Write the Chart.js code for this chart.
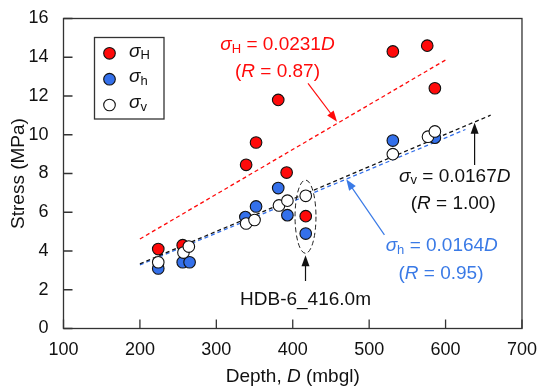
<!DOCTYPE html>
<html><head><meta charset="utf-8">
<script src="https://cdn.jsdelivr.net/npm/chart.js@4/dist/chart.umd.min.js"></script>
<style>html,body{margin:0;padding:0;background:#fff}canvas{display:block}</style>
</head><body>
<canvas id="c" width="540" height="388"></canvas>
<script>
// ---- data ----
const depthSigmaH  = [224, 256, 339, 352, 381, 392, 417, 531, 576, 586];
const sigmaH       = [4.1, 4.3, 8.45, 9.6, 11.8, 8.05, 5.8, 14.3, 14.6, 12.4];
const depthSigmah  = [224, 256, 265, 338, 352, 381, 393, 417, 531, 586];
const sigmah       = [3.1, 3.42, 3.42, 5.75, 6.3, 7.25, 5.85, 4.9, 9.7, 9.85];
const depthSigmaV  = [224, 257, 264, 339, 350, 382, 393, 417, 531, 577, 586];
const sigmaV       = [3.42, 3.92, 4.23, 5.42, 5.6, 6.35, 6.6, 6.85, 9.0, 9.9, 10.17];
// fitted trend lines (end points)
const fitDepthH = [200, 600];   const fitStressH = [4.62, 13.86];
const fitDepthh = [200, 626];   const fitStressh = [3.28, 10.27];
const fitDepthV = [200, 659];   const fitStressV = [3.34, 11.01];
// tick labels
const xTicks = [100, 200, 300, 400, 500, 600, 700];
const yTicks = [0, 2, 4, 6, 8, 10, 12, 14, 16];

const RED = '#ff0a0a', BLUE = '#3470ea', BLUE_TXT = '#3a7ae6';
const FONT = '"Liberation Sans", Arial, Helvetica, sans-serif';
const pts = (xs, ys) => xs.map((x, i) => ({x, y: ys[i]}));

function drawRuns(ctx, runs, cx, cy, align) {
  ctx.save();
  ctx.textBaseline = 'middle';
  ctx.textAlign = 'left';
  let w = 0;
  runs.forEach(r => { ctx.font = r.f; r.w = ctx.measureText(r.t).width; w += r.w; });
  let x = align === 'left' ? cx : cx - w / 2;
  runs.forEach(r => { ctx.font = r.f; ctx.fillStyle = r.c; ctx.fillText(r.t, x, cy + (r.dy || 0)); x += r.w; });
  ctx.restore();
}
function arrow(ctx, x1, y1, x2, y2, color) {
  const a = Math.atan2(y2 - y1, x2 - x1), L = 11, W = 4;
  ctx.save();
  ctx.strokeStyle = color; ctx.fillStyle = color; ctx.lineWidth = 1.2; ctx.setLineDash([]);
  ctx.beginPath(); ctx.moveTo(x1, y1); ctx.lineTo(x2 - Math.cos(a) * L * 0.8, y2 - Math.sin(a) * L * 0.8); ctx.stroke();
  ctx.beginPath();
  ctx.moveTo(x2, y2);
  ctx.lineTo(x2 - L * Math.cos(a) + W * Math.sin(a), y2 - L * Math.sin(a) - W * Math.cos(a));
  ctx.lineTo(x2 - L * Math.cos(a) - W * Math.sin(a), y2 - L * Math.sin(a) + W * Math.cos(a));
  ctx.closePath(); ctx.fill();
  ctx.restore();
}

const F = (s, it) => (it ? 'italic ' : '') + s + 'px ' + FONT;
const eq = (sub, rest, color) => [
  {t: 'σ', f: F(19, true), c: color},
  {t: sub, f: F(13), c: color, dy: 4},
  {t: ' = ' + rest, f: F(19), c: color},
  {t: 'D', f: F(19, true), c: color}];
const rr = (v, color) => [
  {t: '(', f: F(19), c: color},
  {t: 'R', f: F(19, true), c: color},
  {t: ' = ' + v + ')', f: F(19), c: color}];

const decor = {
  id: 'decor',
  afterDraw(chart) {
    const {ctx, chartArea: a, scales: {x, y}} = chart;
    const X = v => x.getPixelForValue(v), Y = v => y.getPixelForValue(v);
    ctx.save();
    // frame
    ctx.strokeStyle = '#333'; ctx.lineWidth = 1.3;
    ctx.strokeRect(a.left, a.top, a.right - a.left, a.bottom - a.top);
    // inward ticks
    ctx.beginPath();
    xTicks.forEach(v => { ctx.moveTo(X(v), a.bottom); ctx.lineTo(X(v), a.bottom - 9); });
    yTicks.forEach(v => { ctx.moveTo(a.left, Y(v)); ctx.lineTo(a.left + 9, Y(v)); });
    ctx.stroke();
    ctx.restore();

    // axis titles
    drawRuns(ctx, [{t: 'Depth, ', f: F(19), c: '#111'}, {t: 'D', f: F(19, true), c: '#111'}, {t: ' (mbgl)', f: F(19), c: '#111'}],
      (a.left + a.right) / 2, 377);
    ctx.save();
    ctx.translate(18.5, (a.top + a.bottom) / 2); ctx.rotate(-Math.PI / 2);
    drawRuns(ctx, [{t: 'Stress (MPa)', f: F(19), c: '#111'}], 0, 0);
    ctx.restore();

    // legend
    ctx.save();
    ctx.strokeStyle = '#333'; ctx.lineWidth = 1.3;
    ctx.strokeRect(94.5, 37.5, 69.5, 81.5);
    const leg = [[RED, 'H', 53.3], [BLUE, 'h', 79.2], ['#fff', 'v', 105]];
    leg.forEach(([c, s, yy]) => {
      ctx.beginPath(); ctx.arc(109.5, yy, 5.8, 0, Math.PI * 2);
      ctx.fillStyle = c; ctx.fill(); ctx.lineWidth = 1.1; ctx.strokeStyle = '#111'; ctx.stroke();
      drawRuns(ctx, [{t: 'σ', f: F(19, true), c: '#111'}, {t: s, f: F(13), c: '#111', dy: 4}], 129, yy - 2, 'left');
    });
    ctx.restore();

    // annotations (data coordinates)
    drawRuns(ctx, eq('H', '0.0231', RED), X(380), Y(14.63));
    drawRuns(ctx, rr('0.87', RED), X(380), Y(13.25));
    arrow(ctx, X(420), Y(12.65), X(458), Y(10.67), RED);

    drawRuns(ctx, eq('v', '0.0167', '#111'), X(612), Y(7.84));
    drawRuns(ctx, rr('1.00', '#111'), X(610), Y(6.46));
    arrow(ctx, X(638), Y(8.44), X(638), Y(10.62), '#111');

    drawRuns(ctx, eq('h', '0.0164', BLUE_TXT), X(595), Y(4.26));
    drawRuns(ctx, rr('0.95', BLUE_TXT), X(594), Y(2.85));
    arrow(ctx, X(520), Y(4.83), X(470), Y(7.7), BLUE_TXT);

    // ellipse around HDB-6 416.0 m
    ctx.save();
    ctx.strokeStyle = '#222'; ctx.lineWidth = 1; ctx.setLineDash([5, 3]);
    ctx.beginPath();
    ctx.ellipse(X(416.7), Y(5.77), Math.abs(X(430.4) - X(416.7)), Math.abs(Y(7.66) - Y(5.77)), 0, 0, Math.PI * 2);
    ctx.stroke();
    ctx.restore();
    arrow(ctx, X(416.7), Y(2.45), X(416.7), Y(3.78), '#111');
    drawRuns(ctx, [{t: 'HDB-6_416.0m', f: F(19), c: '#111'}], X(416.7), Y(1.47));
  }
};

const mk = (label, xs, ys, fill, order) => ({
  label, data: pts(xs, ys), backgroundColor: fill, borderColor: '#111', borderWidth: 1.1,
  pointRadius: 5.8, pointHoverRadius: 5.8, order, showLine: false});
const fit = (xs, ys, color, order) => ({
  data: pts(xs, ys), showLine: true, borderColor: color, borderWidth: 1.3, borderDash: [4, 3],
  pointRadius: 0, fill: false, order});

new Chart(document.getElementById('c'), {
  type: 'scatter',
  data: {datasets: [
    mk('σv', depthSigmaV, sigmaV, '#ffffff', 1),
    mk('σh', depthSigmah, sigmah, BLUE, 2),
    mk('σH', depthSigmaH, sigmaH, RED, 3),
    fit(fitDepthV, fitStressV, '#111', 4),
    fit(fitDepthh, fitStressh, BLUE, 5),
    fit(fitDepthH, fitStressH, RED, 6)
  ]},
  options: {
    responsive: false, animation: false, devicePixelRatio: 1,
    layout: {padding: {left: 0, right: 17.5, top: 18.5, bottom: 0}},
    plugins: {legend: {display: false}, tooltip: {enabled: false}},
    scales: {
      x: {type: 'linear', min: 100, max: 700,
        afterBuildTicks: s => { s.ticks = xTicks.map(v => ({value: v})); },
        afterFit: s => { s.height = 59.5; },
        ticks: {color: '#111', font: {family: FONT, size: 18}, padding: 3, maxRotation: 0, autoSkip: false},
        grid: {display: false}, border: {display: false}},
      y: {type: 'linear', min: 0, max: 16,
        afterBuildTicks: s => { s.ticks = yTicks.map(v => ({value: v})); },
        afterFit: s => { s.width = 63.5; },
        ticks: {color: '#111', font: {family: FONT, size: 18}, padding: 7, autoSkip: false},
        grid: {display: false}, border: {display: false}}
    }
  },
  plugins: [decor]
});
</script>
</body></html>
